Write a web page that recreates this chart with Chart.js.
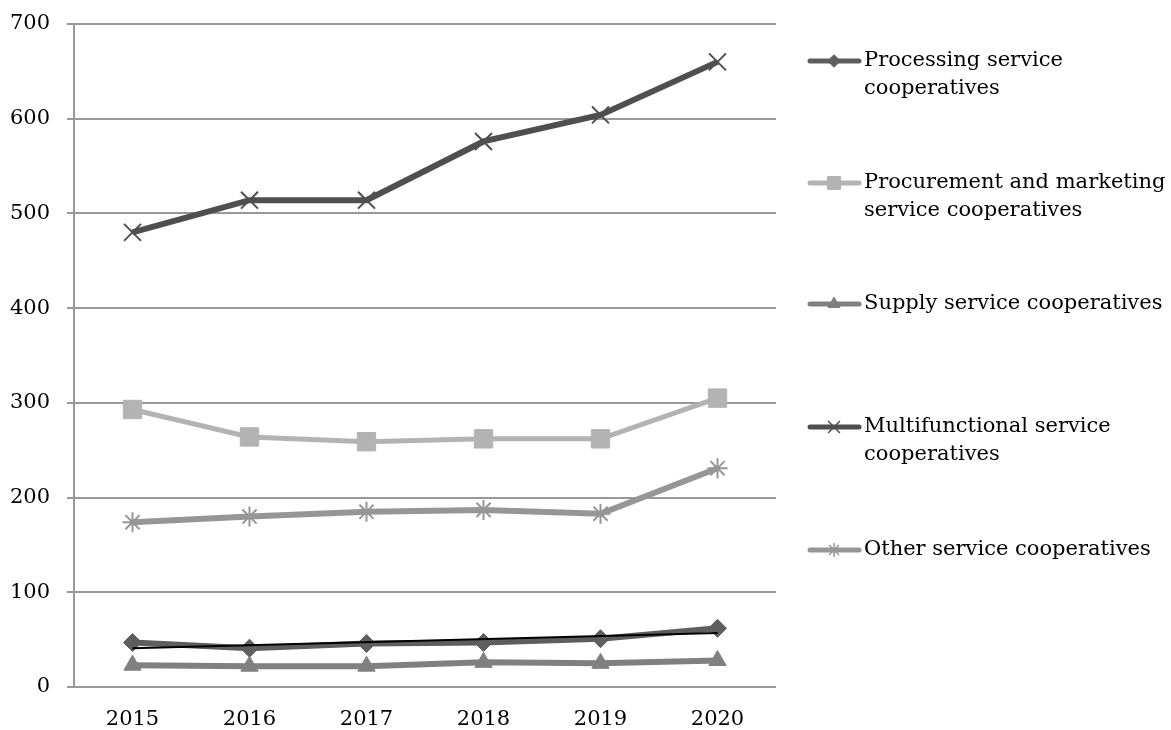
<!DOCTYPE html>
<html>
<head>
<meta charset="utf-8">
<script src="https://cdn.jsdelivr.net/npm/chart.js@4.4.0/dist/chart.umd.min.js"></script>
<style>
  html, body { margin: 0; padding: 0; background: #fff; }
  #wrap { width: 1171px; height: 730px; position: relative; }
</style>
</head>
<body>
<div id="wrap"><canvas id="coopChart"></canvas></div>
<script>
// Service cooperatives by type, 2015-2020
const years = ['2015', '2016', '2017', '2018', '2019', '2020'];
const processing = [47, 41, 46, 47, 51, 62];
const procurement = [293, 264, 259, 262, 262, 305];
const supply = [23, 22, 22, 26, 25, 28];
const multifunctional = [480, 514, 514, 576, 604, 660];
const other = [174, 180, 185, 187, 183, 231];
// linear trend of processing, first and last year
const processingTrend = [41, 57];
const yTicks = [0, 100, 200, 300, 400, 500, 600, 700];

const FONT = "'DejaVu Serif', serif";

let series = [
  { label: ['Processing service', 'cooperatives'], data: processing, color: '#5e5e5e', style: 'rectRot', radius: 9, width: 6 },
  { label: ['Procurement and marketing', 'service cooperatives'], data: procurement, color: '#b3b3b3', style: 'rect', radius: 13, width: 5 },
  { label: ['Supply service cooperatives'], data: supply, color: '#808080', style: 'triangle', radius: 10, width: 6 },
  { label: ['Multifunctional service', 'cooperatives'], data: multifunctional, color: '#4f4f4f', style: 'crossRot', radius: 12, width: 6 },
  { label: ['Other service cooperatives'], data: other, color: '#969696', style: 'star', radius: 10, width: 6 }
];

const thin = (style) => style === 'crossRot' || style === 'star';

let datasets = series.map((s, i) => ({
  label: s.label.join(' '),
  data: s.data,
  borderColor: s.color,
  backgroundColor: s.color,
  borderWidth: s.width,
  pointStyle: s.style,
  pointRadius: s.radius,
  pointBorderWidth: thin(s.style) ? 2 : 1,
  pointBorderColor: s.color,
  pointBackgroundColor: s.color,
  tension: 0,
  order: 10 - i
}));

datasets.push({
  label: 'trend',
  data: [
    { x: years[0], y: processingTrend[0] },
    { x: years[years.length - 1], y: processingTrend[1] }
  ],
  borderColor: '#000',
  borderWidth: 2,
  pointRadius: 0,
  order: 0
});

// legend on the right, two-line labels with line + marker icons
const sideLegend = {
  id: 'sideLegend',
  afterDraw(chart) {
    const ctx = chart.ctx;
    const rows = [61, 183, 304, 427, 550];
    ctx.save();
    series.forEach((s, i) => {
      const y = rows[i];
      ctx.strokeStyle = s.color;
      ctx.lineWidth = 5;
      ctx.lineCap = 'round';
      ctx.beginPath();
      ctx.moveTo(810, y);
      ctx.lineTo(859, y);
      ctx.stroke();
      ctx.lineCap = 'butt';
      ctx.lineWidth = thin(s.style) ? 1.5 : 1;
      ctx.fillStyle = s.color;
      ctx.strokeStyle = s.color;
      Chart.helpers.drawPoint(ctx, {
        pointStyle: s.style,
        radius: s.radius * 0.7,
        borderWidth: ctx.lineWidth,
        rotation: 0
      }, 834, y);
      ctx.fillStyle = '#000';
      ctx.font = '21px ' + FONT;
      ctx.textBaseline = 'middle';
      ctx.textAlign = 'left';
      s.label.forEach((line, j) => ctx.fillText(line, 864, y + j * 28));
    });
    ctx.restore();
  }
};

let ctx = document.getElementById('coopChart').getContext('2d');
let myChart = new Chart(ctx, {
  type: 'line',
  data: { labels: years, datasets: datasets },
  options: {
    responsive: true,
    maintainAspectRatio: false,
    animation: false,
    layout: { padding: { left: 0, top: 24, right: 395, bottom: 0 } },
    plugins: {
      legend: { display: false },
      tooltip: { enabled: false }
    },
    scales: {
      x: {
        offset: true,
        grid: { display: false, drawTicks: false },
        border: { display: false },
        ticks: { color: '#000', padding: 20, font: { family: FONT, size: 21 } },
        afterFit: (scale) => { scale.height = 43; }
      },
      y: {
        min: 0,
        max: 700,
        afterBuildTicks: (scale) => { scale.ticks = yTicks.map(v => ({ value: v })); },
        grid: { color: '#999', lineWidth: 2, tickLength: 7 },
        border: { color: '#999', width: 2 },
        ticks: { color: '#000', padding: 17, font: { family: FONT, size: 21 } },
        afterFit: (scale) => {
          scale.width = 74;
          scale.paddingTop = 0;
          scale.paddingBottom = 0;
        }
      }
    }
  },
  plugins: [sideLegend]
});
</script>
</body>
</html>
